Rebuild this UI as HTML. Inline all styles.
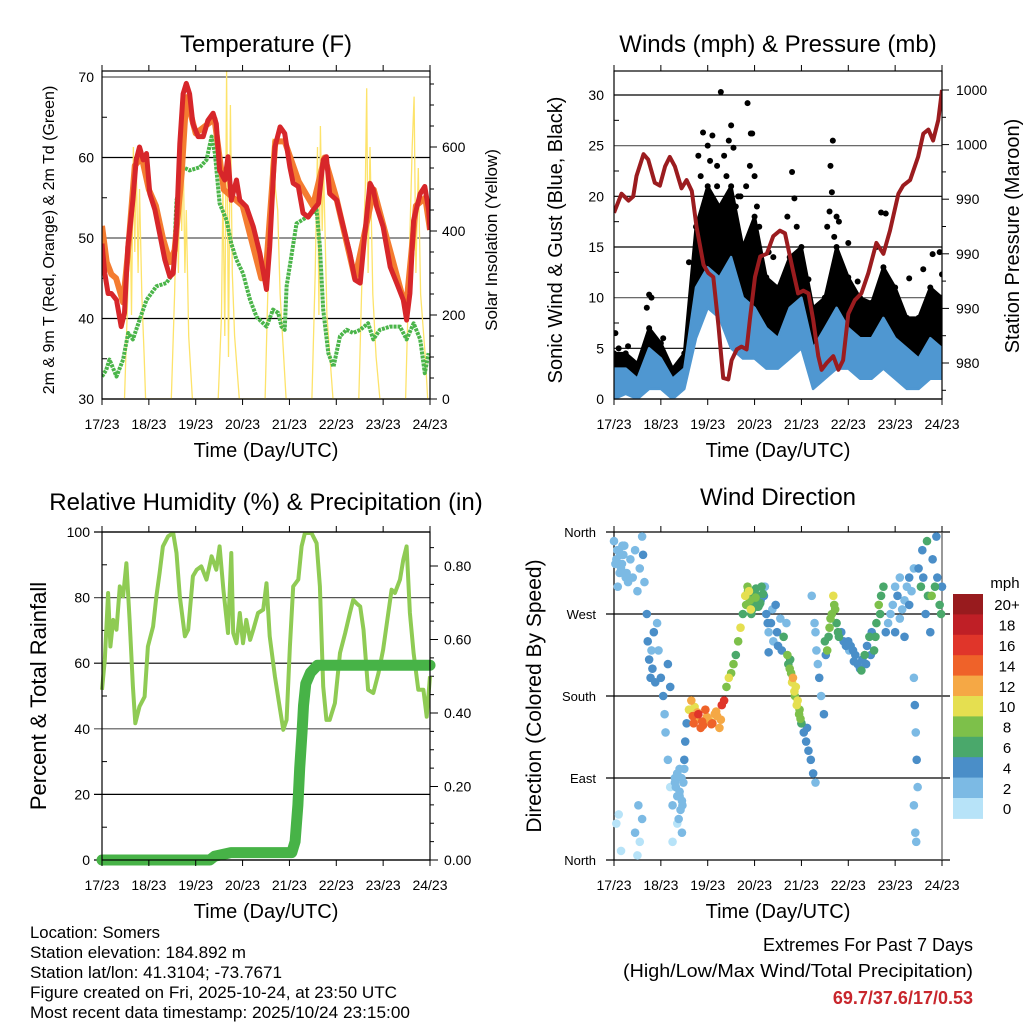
<!DOCTYPE html>
<html><head><meta charset="utf-8"><style>
html,body{margin:0;padding:0;background:#fff;}
svg{display:block;font-family:"Liberation Sans",Arial,sans-serif;}
</style></head><body>
<svg id="root" width="1024" height="1024" viewBox="0 0 1024 1024" xmlns="http://www.w3.org/2000/svg"></svg>
<script>
// ===== Data =====
const dayLabels = ["17/23","18/23","19/23","20/23","21/23","22/23","23/23","24/23"];
// Temperature (F)
const redT = [0,.06,.13,.20,.31,.41,.48,.55,.66,.73,.80,.88,.95,1.02,1.13,1.23,1.34,1.45,1.52,1.59,1.66,1.73,1.80,1.87,1.94,2.05,2.16,2.26,2.37,2.44,2.51,2.62,2.69,2.76,2.87,2.94,3.08,3.23,3.37,3.51,3.58,3.69,3.80,3.90,4.01,4.08,4.19,4.29,4.40,4.51,4.62,4.72,4.79,4.86,5.01,5.15,5.29,5.40,5.51,5.61,5.72,5.79,5.86,6.00,6.15,6.29,6.43,6.50,6.57,6.65,6.79,6.89,6.97,7.0];
const redV = [49.3,45.6,43.1,43.1,42.3,39.0,40.7,48.9,54.7,59.7,61.3,59.7,60.5,55.5,53.5,50.6,47.3,45.2,45.6,51.4,61.7,67.9,69.2,67.9,64.2,62.6,62.6,64.6,65.5,64.2,58.4,57.2,60.1,54.7,57.2,54.7,53.9,51.4,48.1,43.6,48.9,61.3,63.8,63.0,58.8,56.8,56.4,53.1,52.6,53.5,54.3,59.7,60.1,55.5,54.7,51.4,48.1,44.8,44.4,50.6,56.8,56.0,53.9,51.4,46.4,44.4,42.3,39.8,43.1,52.2,55.5,56.4,53.5,51.0];
const orangeT = [0,0.1,0.2,0.3,0.45,0.55,0.7,0.85,1.0,1.15,1.3,1.45,1.55,1.7,1.8,2.0,2.4,2.6,3.0,3.4,3.5,3.7,3.9,4.2,4.5,4.75,5.0,5.4,5.6,5.8,6.1,6.4,6.5,6.7,6.9,7.0];
const orangeV = [51.5,47,45.5,45,42,48,59,60,56,54,50,47,48.5,58,67.5,63,64.8,56,54,45,46,62,62,57,54,60,55,45,50.5,56,49.5,43,42,54,55,51];
const dewT = [0,.09,.16,.31,.45,.56,.66,.80,.95,1.16,1.37,1.52,1.59,1.66,1.73,1.87,2.09,2.23,2.34,2.41,2.51,2.66,2.76,2.87,3.01,3.16,3.30,3.51,3.65,3.76,3.83,3.90,3.94,4.05,4.15,4.37,4.58,4.65,4.72,4.83,4.94,5.08,5.22,5.36,5.51,5.68,5.79,5.93,6.15,6.36,6.50,6.65,6.79,6.89,6.97];
const dewV = [32.8,33.6,34.9,32.8,34.9,38.2,37.4,39.8,42.3,44.0,44.4,45.6,54.7,56.4,58.8,58.4,58.8,59.7,62.6,60.5,54.3,52.2,49.3,47.3,45.6,42.3,40.2,39.0,41.1,40.7,39.0,38.6,44.0,48.1,51.8,52.6,53.5,48.9,41.1,35.7,34.0,37.8,38.6,38.2,38.6,39.4,37.4,38.6,39.0,39.0,37.4,39.4,37.4,33.2,35.7];
const solarT = [0.48,0.55,0.6,0.63,0.67,0.7,0.73,0.77,0.8,0.85,0.9,0.93, 1.48,1.55,1.6,1.63,1.67,1.7,1.73,1.77,1.8,1.85,1.93, 2.48,2.55,2.58,2.62,2.66,2.7,2.74,2.78,2.83,2.93, 3.48,3.55,3.6,3.65,3.7,3.75,3.8,3.93, 4.48,4.55,4.6,4.63,4.66,4.7,4.73,4.8,4.93, 5.48,5.55,5.62,5.65,5.68,5.72,5.78,5.85,5.93, 6.48,6.55,6.62,6.66,6.7,6.75,6.8,6.9,6.95];
const solarW = [0,250,450,200,600,350,580,300,500,250,100,0, 0,250,500,300,680,400,600,300,450,150,0, 0,200,500,150,780,100,700,300,150,0, 0,300,550,620,500,450,250,0, 0,300,600,200,650,400,550,200,0, 0,300,500,740,300,600,250,100,0, 0,300,600,720,300,550,250,100,0];
// Winds (mph) & pressure (mb)
const windT = [0,.25,.5,.75,1,1.25,1.5,1.75,2,2.25,2.5,2.75,3,3.25,3.5,3.75,4,4.25,4.5,4.75,5,5.25,5.5,5.75,6,6.25,6.5,6.75,7];
const gustHi = [4.5,4.5,3.5,7,5.5,3,4.5,17,21,19,21,15,18,12,11,14,15,9,10,15,12,10,9.5,13,11,8,8,11,10];
const gustLo = [2,2,1,3,3,2,2,8,11,10,6,7,6,6,6,7,7,3,4,6,4,4,4,5,4,3,3,4,4];
const windHi = [3,3,2,5,4,2,3,11,13,12,14,10,9,7,6,9,10,5,7,9,7,6,6,8,6,5,4,6,5];
const windLo = [0,0.5,0,1,1,0,1,6,9,8,5,4,4,3,3,4,5,1,2,3,3,2,2,3,2,1,1,2,2];
const gustDotT = [0.03,0.1,0.3,0.7,0.75,0.8,1.05,1.6,1.8,1.9,2.0,2.1,2.2,2.2,2.28,2.35,2.45,2.5,2.55,2.65,2.7,2.82,2.85,2.9,2.92,2.95,3.0,3.1,3.3,3.4,3.7,3.8,3.85,4.15,4.55,4.6,4.62,4.65,4.67,4.75,4.8,5.0,5.2,5.6,5.7,5.8,6.3,6.6,6.8,6.95,7.0,1.85,2.05,2.4,2.6,3.05,3.9,4.7];
const gustDotV = [6.5,5,5.2,9,10.3,10,6,13.5,24,26.3,25,26,23,21,30.3,24,25.5,27,24.8,20,20,21,29.2,23,26.2,26.2,22,17,14.5,14,18,22.4,19.8,11.8,17,18.5,23,20.4,25.5,18,17.5,15.4,11.6,15,18.4,18.3,11.9,12.8,14.3,14.5,12.3,22,23.5,22,19,19,17,16];
const presT = [0,.16,.31,.41,.48,.63,.73,.87,.98,1.09,1.19,1.30,1.44,1.55,1.66,1.76,1.91,2.01,2.12,2.23,2.33,2.44,2.51,2.62,2.72,2.83,2.90,3.01,3.12,3.26,3.40,3.54,3.65,3.83,3.93,4.04,4.15,4.25,4.36,4.43,4.54,4.68,4.79,4.89,5.00,5.14,5.28,5.43,5.60,5.75,5.89,6.07,6.17,6.32,6.49,6.60,6.71,6.81,6.92,7.0];
const presV = [993.0,994.4,993.9,994.2,995.7,997.3,996.9,995.2,995.0,996.4,997.1,996.4,994.8,995.4,994.6,992.0,989.2,988.6,988.3,984.7,980.9,980.8,982.2,983.0,983.2,983.0,985.2,988.3,989.8,990.0,991.3,991.7,991.5,988.6,987.1,987.3,987.1,985.2,982.5,981.5,982.0,982.5,981.5,982.2,985.6,986.6,987.1,988.6,990.8,990.0,991.7,994.4,995.0,995.4,997.1,998.8,999.1,998.3,999.8,1002.0];
const presTicks = [982,986,990,994,998,1002];
// Relative humidity & precipitation
const rhT = [0,.06,.13,.18,.24,.31,.38,.45,.52,.59,.66,.71,.80,.91,.98,1.09,1.16,1.23,1.30,1.41,1.52,1.59,1.66,1.77,1.84,1.94,2.02,2.12,2.23,2.34,2.44,2.51,2.59,2.69,2.76,2.80,2.87,2.94,3.01,3.08,3.16,3.23,3.33,3.44,3.51,3.58,3.69,3.80,3.87,3.94,4.01,4.08,4.19,4.26,4.33,4.47,4.58,4.65,4.72,4.79,4.86,4.97,5.08,5.19,5.29,5.36,5.43,5.51,5.58,5.68,5.79,5.90,6.00,6.11,6.18,6.25,6.36,6.43,6.50,6.57,6.65,6.75,6.86,6.93,7.0];
const rhV = [51.9,61.0,81.4,65.1,73.2,70.2,83.4,80.4,90.5,73.2,52.9,41.7,46.8,49.8,65.1,71.2,80.4,87.5,95.6,98.7,99.7,93.6,80.4,68.2,70.2,86.5,88.5,89.5,85.5,92.6,88.5,95.6,82.4,69.2,93.6,69.2,66.1,75.3,66.1,73.2,67.1,70.2,75.3,76.3,84.4,68.2,56.0,45.8,39.7,42.7,65.1,83.4,85.5,95.6,99.7,99.7,96.6,83.4,52.9,42.7,42.7,47.8,63.1,69.2,75.3,79.3,78.3,77.3,70.2,51.9,50.9,57.0,64.1,75.3,82.4,81.4,85.5,91.6,95.6,75.3,63.1,51.9,51.9,43.7,56.0];
const precT = [0,2.3,2.4,2.75,4.05,4.12,4.18,4.22,4.27,4.3,4.35,4.45,4.6,7.0];
const precV = [0,0,0.01,0.02,0.02,0.05,0.15,0.25,0.35,0.42,0.48,0.51,0.53,0.53];
// Wind direction (deg) colored by speed (mph)
const dirT = [0.0,0.05,0.1,0.15,0.2,0.25,0.08,0.18, .35,.4,.45,.5,.55,.6,.62,.65, .7,.72,.75,.78,.8,.82,.85,.88, .92,.95,1.0,1.05,1.08,1.1,1.15,1.2,
 1.15,1.2,1.25,1.3,1.35,1.4,1.45,1.5, 1.3,1.35,1.4,1.45,1.5,1.52,1.55,1.25, 1.6,1.7,1.8,1.9,2.0,2.1,2.2,2.3, 1.65,1.75,1.85,1.95,2.05,2.15,2.25,2.35,
 2.4,2.45,2.5,2.55,2.6,2.65,2.7,2.75, 2.8,2.85,2.9,2.95,3.0,3.05,3.1,3.15, 2.82,2.88,2.93,2.98,3.03,3.08,3.13,3.18, 3.2,3.25,3.3,3.35,3.4,3.45,3.5,3.55,
 3.22,3.28,3.38,3.48,3.58,3.62,3.68,3.3, 3.7,3.75,3.8,3.85,3.9,3.95,3.72,3.82, 3.78,3.88,3.98,3.92,3.76,3.86,4.0,3.96, 4.0,4.05,4.1,4.15,4.2,4.25,4.3,4.12,
 4.22,4.28,4.32,4.38,4.42,4.48,4.3,4.35, 4.5,4.55,4.6,4.65,4.7,4.75,4.8,4.85, 4.52,4.58,4.62,4.68,4.72,4.78,4.9,4.95, 5.0,5.05,5.1,5.15,5.2,5.25,5.3,5.35,
 5.4,5.45,5.5,5.38,5.28,5.12,5.02,5.48, 5.55,5.6,5.65,5.7,5.75,5.8,5.58,5.68, 5.85,5.9,5.95,6.0,6.05,6.1,6.15,6.2, 6.25,6.3,6.35,6.4,6.0,6.1,6.2,6.3,
 6.5,6.55,6.6,6.65,6.7,6.75,6.8,6.85, 6.9,6.95,7.0,6.58,6.68,6.78,6.88,6.98, 6.4,6.42,6.44,6.46,6.48,6.4,6.43,6.45, .05,.1,.15,.45,.5,.55,.6,.52,
 0.03,0.12,0.22,0.3,0.07,0.17,0.27,0.13, 1.68,1.78,1.88,1.98,2.08,2.18,2.28,1.72, 2.9,2.96,3.02,3.06,3.12,2.86,2.92,3.0, 1.35,1.42,1.48,1.38,1.44,1.32,1.46,1.4];
const dirDeg = [350,330,340,320,335,310,300,345, 330,310,340,295,320,355,335,305, 270,240,220,200,230,210,250,195, 260,230,200,180,160,140,215,190,
 110,80,60,90,40,70,30,100, 85,95,75,65,110,130,150,20, 165,150,160,148,155,150,158,170, 175,155,145,165,152,160,145,175,
 190,200,205,215,225,240,255,270, 290,300,285,275,295,290,280,300, 280,295,270,288,298,278,285,292, 290,270,250,260,240,280,235,265,
 300,260,275,250,230,245,260,228, 225,210,195,185,170,160,215,200, 205,190,155,175,220,180,150,165, 150,140,130,120,110,95,85,145,
 290,260,230,200,180,160,250,215, 240,230,255,270,280,260,245,250, 225,245,265,290,275,250,240,235, 240,235,230,225,215,210,220,225,
 235,245,250,215,208,218,230,225, 230,260,280,290,300,250,245,270, 260,270,280,300,290,310,275,285, 300,310,295,320,250,265,245,280,
 320,300,310,270,290,250,330,300, 310,280,300,340,350,290,355,270, 200,170,140,110,80,60,30,20, 40,50,10,30,5,20,45,60,
 325,315,345,305,340,325,315,335, 158,162,152,157,149,163,154,168, 283,292,288,278,282,295,275,280, 70,55,85,45,90,80,60,100];
const dirSpd = [2,2,3,2,2,3,2,2, 2,3,2,2,2,3,4,2, 4,4,5,4,3,4,4,5, 2,3,4,4,3,2,4,4,
 2,1,2,2,1,2,2,3, 2,2,3,2,4,4,5,1, 10,14,16,15,12,14,13,16, 12,13,15,14,10,12,12,17,
 8,10,8,9,7,8,10,6, 10,9,8,6,6,7,6,6, 8,10,6,6,7,6,4,6, 4,4,2,4,2,4,4,2,
 2,4,2,4,4,6,2,4, 8,8,10,10,10,8,6,12, 8,10,8,10,6,8,6,8, 4,4,4,4,5,4,3,4,
 2,2,3,4,2,4,2,2, 6,8,8,9,8,7,6,4, 4,6,8,10,8,6,4,4, 4,4,5,4,4,5,4,6,
 4,6,4,5,6,4,2,4, 6,6,8,6,6,4,7,6, 2,3,2,2,4,2,2,2, 2,4,2,2,4,2,4,4,
 4,6,4,4,6,4,4,6, 4,6,4,4,6,8,4,6, 2,4,2,4,2,2,2,2, 1,1,0,2,1,0,3,2,
 2,2,2,3,2,2,2,3, 14,12,15,13,14,12,13,11, 6,7,8,6,6,8,10,6, 2,2,3,2,2,2,3,2];
const speedLabels = ["0","2","4","6","8","10","12","14","16","18","20+"];
const speedColors = ["#b7e3f8","#7cbae4","#4a8ec8","#4aa86b","#7dc04a","#e5df50","#f5a845","#ef6229","#e0352a","#bf1f26","#981b1e"];

// ===== Helpers =====
const NS = "http://www.w3.org/2000/svg";
const root = document.getElementById('root');
function mk(tag, attrs, parent) {
  const e = document.createElementNS(NS, tag);
  for (const k in attrs) e.setAttribute(k, attrs[k]);
  (parent || root).appendChild(e);
  return e;
}
function txt(s, x, y, size, anchor, parent, extra) {
  const t = mk('text', Object.assign({x:x, y:y, 'font-size':size, 'text-anchor':anchor||'middle', fill:'#000'}, extra||{}), parent);
  t.textContent = s;
  return t;
}
function panel(name) {
  const g = mk('g', {});
  
  
  return g;
}
function lin(d0, d1, p0, p1) { return v => p0 + (v - d0) * (p1 - p0) / (d1 - d0); }
function polyPts(ts, vs, fx, fy) { return ts.map((t, i) => fx(t).toFixed(1) + ',' + fy(vs[i]).toFixed(1)).join(' '); }
function timeAxis(g, x0, x1, yb, yt) {
  const fx = lin(0, 7, x0, x1);
  dayLabels.forEach((lab, i) => {
    const x = fx(i);
    mk('line', {x1:x, y1:yb, x2:x, y2:yb+6, stroke:'#000', 'stroke-width':1}, g);
    mk('line', {x1:x, y1:yt, x2:x, y2:yt-6, stroke:'#000', 'stroke-width':1}, g);
    const t = txt(lab, x, yb + 30, 14, 'middle', g);
    
    
  });
  const xt = txt('Time (Day/UTC)', (x0 + x1) / 2, yb + 58, 20, 'middle', g);
  
  
  return fx;
}
function frame(g, x0, x1, yt, yb) {
  mk('rect', {x:x0, y:yt, width:x1-x0, height:yb-yt, fill:'none', stroke:'#000', 'stroke-width':1.2}, g);
}
function vtitle(s, x, y, size, g, name) {
  const t = txt(s, x, y, size, 'middle', g, {transform:'rotate(-90 ' + x + ' ' + y + ')'});
  
  
}
function title(s, x, y, g) {
  const t = txt(s, x, y, 24, 'middle', g);
  
  
}

// ===== Panel 1: Temperature =====
(function(){
  const g = panel('temperature-panel');
  const x0 = 102, x1 = 430, yt = 71, yb = 399;
  const fy = lin(30, 70, 399, 77);
  const fs = lin(0, 600, 399, 147);
  const clip = mk('clipPath', {id:'c1'}, g); mk('rect', {x:x0, y:yt, width:x1-x0, height:yb-yt}, clip);
  [30,40,50,60,70].forEach(v => {
    mk('line', {x1:x0, x2:x1, y1:fy(v), y2:fy(v), stroke: v===50||v===70 ? '#555' : '#000', 'stroke-width':1.2}, g);
    const t = txt(String(v), x0 - 8, fy(v) + 5, 14, 'end', g);
    
    
  });
  for (let v = 35; v < 70; v += 10) mk('line', {x1:x0, x2:x0+5, y1:fy(v), y2:fy(v), stroke:'#000'}, g);
  for (let w = 0; w <= 750; w += 50) mk('line', {x1:x1, x2:x1 + (w % 200 === 0 ? 7 : 4), y1:fs(w), y2:fs(w), stroke:'#000'}, g);
  [0,200,400,600].forEach(w => { const t = txt(String(w), x1 + 12, fs(w) + 5, 14, 'start', g);   });
  const cg = mk('g', {'clip-path':'url(#c1)'}, g);
  const fx = lin(0, 7, x0, x1);
  const sol = mk('polyline', {points: polyPts(solarT, solarW, fx, fs), fill:'none', stroke:'#fde36a', 'stroke-width':1.3}, cg);
  
  
  const dw = mk('polyline', {points: polyPts(dewT, dewV, fx, fy), fill:'none', stroke:'#4bb54a', 'stroke-width':4, 'stroke-dasharray':'3,1', 'stroke-linejoin':'round'}, cg);
  
  
  const or = mk('polyline', {points: polyPts(orangeT, orangeV, fx, fy), fill:'none', stroke:'#f47c30', 'stroke-width':6, 'stroke-linejoin':'round'}, cg);
  
  
  const rd = mk('polyline', {points: polyPts(redT, redV, fx, fy), fill:'none', stroke:'#d7262a', 'stroke-width':5, 'stroke-linejoin':'round'}, cg);
  
  
  frame(g, x0, x1, yt, yb);
  timeAxis(g, x0, x1, yb, yt);
  title('Temperature (F)', 266, 52, g);
  vtitle('2m & 9m T (Red, Orange) & 2m Td (Green)', 54, 240, 16, g, 'y-axis-title');
  vtitle('Solar Insolation (Yellow)', 497, 240, 17, g, 'y2-axis-title');
})();

// ===== Panel 2: Winds & Pressure =====
(function(){
  const g = panel('winds-pressure-panel');
  const x0 = 614, x1 = 942, yt = 71, yb = 399;
  const fy = lin(0, 30, 399, 95);
  const fp = lin(982, 1002, 363, 90);
  const fx = lin(0, 7, x0, x1);
  const clip = mk('clipPath', {id:'c2'}, g); mk('rect', {x:x0, y:yt, width:x1-x0, height:yb-yt}, clip);
  [0,5,10,15,20,25,30].forEach(v => {
    mk('line', {x1:x0, x2:x1, y1:fy(v), y2:fy(v), stroke: v===10||v===25 ? '#555' : '#000', 'stroke-width':1.2}, g);
    const t = txt(String(v), x0 - 10, fy(v) + 5, 14, 'end', g);
    
    
  });
  for (let v = 2.5; v < 32; v += 5) mk('line', {x1:x0, x2:x0+5, y1:fy(v), y2:fy(v), stroke:'#000'}, g);
  for (let p = 980; p <= 1003; p += 2) mk('line', {x1:x1, x2:x1 + ((p - 982) % 4 === 0 ? 7 : 4), y1:fp(p), y2:fp(p), stroke:'#000'}, g);
  presTicks.forEach(p => { const t = txt(String(Math.round(p / 10) * 10), x1 + 14, fp(p) + 5, 14, 'start', g);   });
  const cg = mk('g', {'clip-path':'url(#c2)'}, g);
  const gb = mk('polygon', {points: polyPts(windT, gustHi, fx, fy) + ' ' + polyPts(windT.slice().reverse(), gustLo.slice().reverse(), fx, fy), fill:'#000', stroke:'#000', 'stroke-width':3, 'stroke-linejoin':'round'}, cg);
  
  
  windT.forEach((t, i) => {
    const c = mk('circle', {cx:fx(t), cy:fy(gustHi[i]), r:3, fill:'#000'}, cg);
    
    
  });
  gustDotT.forEach((t, i) => {
    const c = mk('circle', {cx:fx(t), cy:fy(gustDotV[i]), r:3, fill:'#000'}, cg);
    
    
  });
  const wb = mk('polygon', {points: polyPts(windT, windHi, fx, fy) + ' ' + polyPts(windT.slice().reverse(), windLo.slice().reverse(), fx, fy), fill:'#4f97d1', stroke:'#4f97d1', 'stroke-width':2.5, 'stroke-linejoin':'round'}, cg);
  
  
  const pl = mk('polyline', {points: polyPts(presT, presV, fx, fp), fill:'none', stroke:'#9b1c1f', 'stroke-width':4, 'stroke-linejoin':'round'}, cg);
  
  
  frame(g, x0, x1, yt, yb);
  timeAxis(g, x0, x1, yb, yt);
  title('Winds (mph) & Pressure (mb)', 778, 52, g);
  vtitle('Sonic Wind & Gust (Blue, Black)', 562, 240, 20, g, 'y-axis-title');
  vtitle('Station Pressure (Maroon)', 1019, 236, 20, g, 'y2-axis-title');
})();

// ===== Panel 3: RH & Precip =====
(function(){
  const g = panel('humidity-precip-panel');
  const x0 = 102, x1 = 430, yt = 532, yb = 860;
  const fy = lin(0, 100, 860, 532);
  const fp = lin(0, 0.8, 860, 566);
  const fx = lin(0, 7, x0, x1);
  const clip = mk('clipPath', {id:'c3'}, g); mk('rect', {x:x0 - 6, y:yt, width:x1-x0+12, height:yb-yt+6}, clip);
  [0,20,40,60,80,100].forEach(v => {
    mk('line', {x1:x0 - 8, x2:x1, y1:fy(v), y2:fy(v), stroke: v===40||v===80 ? '#555' : '#000', 'stroke-width':1.2}, g);
    const t = txt(String(v), x0 - 12, fy(v) + 5, 14, 'end', g);
    
    
  });
  for (let v = 10; v < 100; v += 20) mk('line', {x1:x0, x2:x0+5, y1:fy(v), y2:fy(v), stroke:'#000'}, g);
  for (let p = 0; p <= 0.9; p += 0.05) mk('line', {x1:x1, x2:x1 + (Math.round(p * 100) % 20 === 0 ? 8 : 4), y1:fp(p), y2:fp(p), stroke:'#000'}, g);
  [0,0.2,0.4,0.6,0.8].forEach(p => { const t = txt(p.toFixed(2), x1 + 14, fp(p) + 5, 14, 'start', g);   });
  const cg = mk('g', {'clip-path':'url(#c3)'}, g);
  const rh = mk('polyline', {points: polyPts(rhT, rhV, fx, fy), fill:'none', stroke:'#8fcb54', 'stroke-width':4, 'stroke-linejoin':'round'}, cg);
  
  
  const pr = mk('polyline', {points: polyPts(precT, precV, fx, fp), fill:'none', stroke:'#47b347', 'stroke-width':11, 'stroke-linejoin':'round', 'stroke-linecap':'round'}, cg);
  
  
  frame(g, x0, x1, yt, yb);
  timeAxis(g, x0, x1, yb, yt);
  title('Relative Humidity (%) & Precipitation (in)', 266, 510, g);
  vtitle('Percent & Total Rainfall', 46, 696, 22, g, 'y-axis-title');
})();

// ===== Panel 4: Wind direction =====
(function(){
  const g = panel('wind-direction-panel');
  const x0 = 614, x1 = 942, yt = 532, yb = 860;
  const fy = lin(0, 360, 860, 532);
  const fx = lin(0, 7, x0, x1);
  [[360,'North'],[270,'West'],[180,'South'],[90,'East'],[0,'North']].forEach(([d, lab]) => {
    mk('line', {x1:x0 - 8, x2:x1 + 8, y1:fy(d), y2:fy(d), stroke:'#000', 'stroke-width':1.2}, g);
    const t = txt(lab, x0 - 18, fy(d) + 5, 13, 'end', g);
    
    
  });
  mk('line', {x1:x0, x2:x0, y1:yt, y2:yb, stroke:'#000', 'stroke-width':1.2}, g);
  mk('line', {x1:x1, x2:x1, y1:yt, y2:yb, stroke:'#555', 'stroke-width':1.2}, g);
  const pts = mk('g', {}, g);
  
  
  const order = dirT.map((t, i) => i).sort((a, b) => dirSpd[a] - dirSpd[b]);
  order.forEach(i => {
    const bin = Math.min(10, Math.floor(dirSpd[i] / 2));
    const c = mk('circle', {cx:fx(dirT[i]), cy:fy(dirDeg[i]), r:4.3, fill:speedColors[bin]}, pts);
    
    
  });
  timeAxis(g, x0, x1, yb, yt);
  title('Wind Direction', 778, 505, g);
  vtitle('Direction (Colored By Speed)', 541, 696, 21, g, 'y-axis-title');
  // legend
  const lg = mk('g', {}, g);
  
  
  const lt = txt('mph', 1005, 588, 15, 'middle', lg);
  
  
  const top = 594, h = 20.4;
  speedColors.slice().reverse().forEach((col, k) => {
    const r = mk('rect', {x:953, y:top + k * h, width:30, height:h + 0.5, fill:col}, lg);
    
    
    const t = txt(speedLabels[10 - k], 1007, top + k * h + h / 2 + 6, 15, 'middle', lg);
    
    
  });
})();

// ===== Footer =====
(function(){
  const g = panel('station-info');
  ["Location: Somers","Station elevation: 184.892 m","Station lat/lon: 41.3104; -73.7671","Figure created on Fri, 2025-10-24, at 23:50 UTC","Most recent data timestamp: 2025/10/24 23:15:00"].forEach((s, i) => {
    const t = txt(s, 30, 938 + i * 20, 17, 'start', g, {textLength: [130,216,252,367,380][i], lengthAdjust:'spacingAndGlyphs'});
    
    
  });
  const e = panel('extremes-summary');
  const a = txt('Extremes For Past 7 Days', 973, 951, 18, 'end', e);
  
  
  const b = txt('(High/Low/Max Wind/Total Precipitation)', 973, 977, 18, 'end', e, {textLength:350, lengthAdjust:'spacingAndGlyphs'});
  
  
  const c = txt('69.7/37.6/17/0.53', 973, 1004, 18, 'end', e, {fill:'#c8262c', 'font-weight':'bold'});
  
  
})();
</script>
</body></html>
